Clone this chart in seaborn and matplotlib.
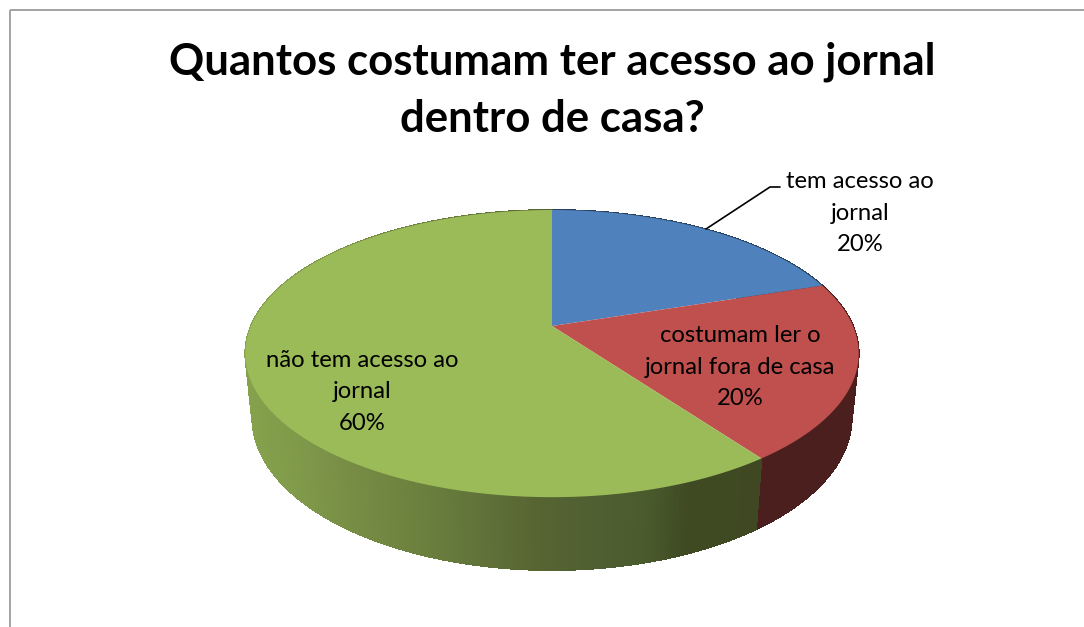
import numpy as np
import matplotlib
matplotlib.use("Agg")
import matplotlib.pyplot as plt
from matplotlib.collections import PolyCollection
from matplotlib.colors import to_rgb
from matplotlib.patches import Rectangle
from matplotlib.path import Path
from matplotlib.transforms import Transform
import seaborn as sns

# ---- data ----
title = "Quantos costumam ter acesso ao jornal\ndentro de casa?"
categories = ["tem acesso ao\njornal", "costumam ler o\njornal fora de casa", "não tem acesso ao\njornal"]
values = [20, 20, 60]

# ---- style ----
sns.set_theme(style="white")
plt.rcParams["font.family"] = ["Lato", "DejaVu Sans"]
top_colors = sns.color_palette(["#4f81bd", "#c0504d", "#9bbb59"])
side_colors = ["#28415f", "#4c1f1f", None]
grad_x = [245, 300, 345, 400, 450, 540, 600, 650, 690, 760]
grad_c = np.array([to_rgb(c) for c in
                   ["#86a24c", "#7f994a", "#788e45", "#6f843f", "#667a3c",
                    "#566432", "#4f5f31", "#495a2d", "#3f4a22", "#3f4822"]])
label_pos = [(860, 213), (740, 367), (362, 392)]
APEX = (552.0, 326.0)
A, B, K = 301.0, 138.3, 0.192   # top face perspective
DC, DM = 64.4, -0.0226          # depth of the disc


def project(x, y, z=0.0):
    w = 1 + K * y + DM * z
    return APEX[0] + A * x / w, APEX[1] - (B * y + DC * z) / w


class Perspective(Transform):
    input_dims = output_dims = 2
    is_affine = False
    has_inverse = False

    def transform_non_affine(self, values):
        v = np.asarray(values, float)
        X, Y = project(v[:, 0], v[:, 1])
        return np.column_stack([X, Y])

    def transform_path_non_affine(self, path):
        t = np.linspace(0, 1, 41)
        pts = np.vstack([seg(t) for seg, _ in path.iter_bezier()])
        return Path(self.transform_non_affine(pts))


fig = plt.figure(figsize=(10.84, 6.27), dpi=100, facecolor="white")
ax = fig.add_axes([0, 0, 1, 1])

# top face
wedges, _ = ax.pie(values, startangle=90, counterclock=False, colors=top_colors,
                   wedgeprops=dict(linewidth=0))
persp = Perspective()
for w in wedges:
    w.set_transform(persp + ax.transData)
    w.set_zorder(3)

ax.set_aspect("auto")
ax.set_xlim(0, 1084)
ax.set_ylim(627, 0)
ax.axis("off")

# side wall
quads, cols = [], []
for w, side in zip(wedges, side_colors):
    th = np.radians(np.linspace(w.theta1, w.theta2, int(abs(w.theta2 - w.theta1)) * 2 + 2))
    x, y = np.cos(th), np.sin(th)
    X0, Y0 = project(x, y)
    X1, Y1 = project(x, y, -1.0)
    for i in range(len(th) - 1):
        quads.append([(X0[i], Y0[i]), (X0[i + 1], Y0[i + 1]), (X1[i + 1], Y1[i + 1]), (X1[i], Y1[i])])
        if side is None:
            xm = (X0[i] + X0[i + 1]) / 2
            cols.append([np.interp(xm, grad_x, grad_c[:, c]) for c in range(3)])
        else:
            cols.append(to_rgb(side))
ax.add_collection(PolyCollection(quads, facecolors=cols, edgecolors=cols, linewidths=0.6,
                                 antialiaseds=False, zorder=2))

# chart frame (open to the right and the bottom of the picture)
ax.add_patch(Rectangle((10, 9.5), 1200, 800, fill=False, edgecolor="#a3a3a3", linewidth=1.4, zorder=1))

# title and labels
ax.text(552, 90, title, ha="center", va="center", fontsize=31.5, fontweight="bold",
        color="black", linespacing=1.53, zorder=5)
for cat, val, (px, py) in zip(categories, values, label_pos):
    ax.text(px, py, f"{cat}\n{val / sum(values):.0%}", ha="center", va="center",
            multialignment="center", fontsize=17.2, color="black", linespacing=1.6, zorder=5)

# leader line
ax.plot([706, 770, 780], [229, 187, 187], color="black", linewidth=1.2, zorder=4)

fig.savefig("out.png", dpi=100)
